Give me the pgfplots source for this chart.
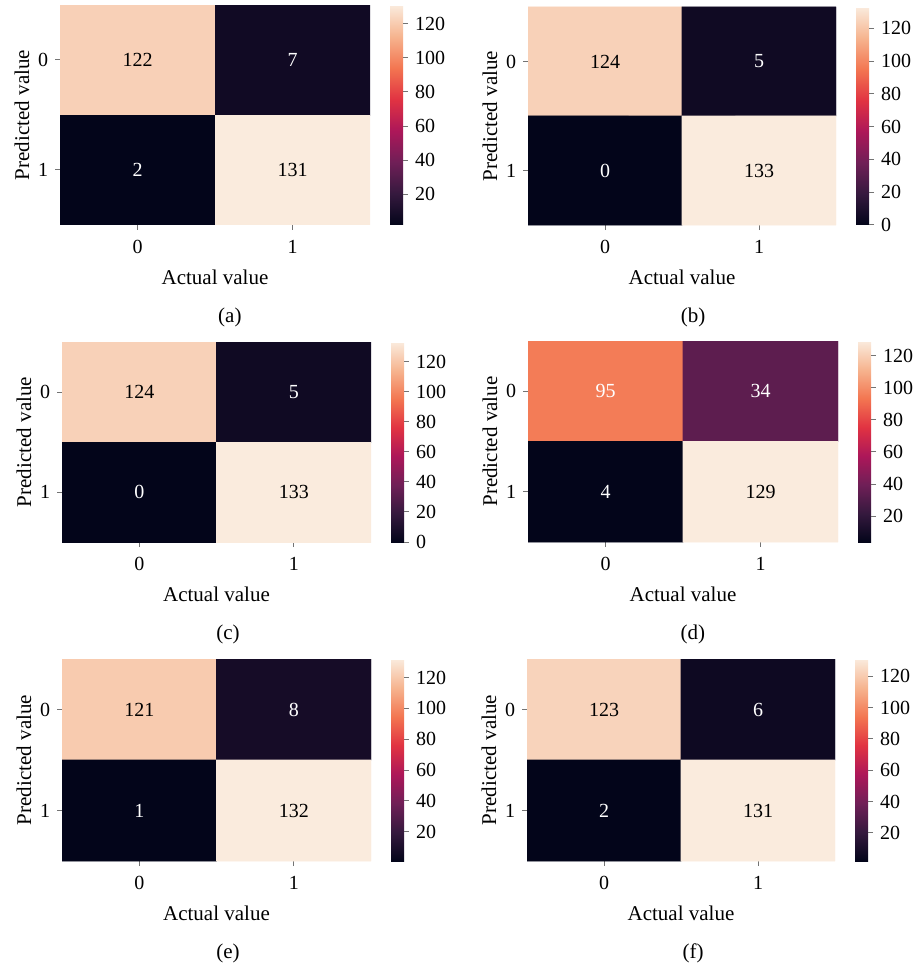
\documentclass[border=0pt]{standalone}
\usepackage{fontspec}
\setmainfont{Liberation Serif}
\usepackage{pgfplots}
\usepackage{pgfplotstable}
\pgfplotsset{compat=1.18}

% x = actual value (column), r = predicted value (row, 0 on top)
% w = 1: count written in white, w = 0: in black
\pgfplotstableread{
x r v w
0 0 122 0
1 0 7 1
0 1 2 1
1 1 131 0
}\tabA
\pgfplotstableread{
x r v w
0 0 124 0
1 0 5 1
0 1 0 1
1 1 133 0
}\tabB
\pgfplotstableread{
x r v w
0 0 124 0
1 0 5 1
0 1 0 1
1 1 133 0
}\tabC
\pgfplotstableread{
x r v w
0 0 95 1
1 0 34 1
0 1 4 1
1 1 129 0
}\tabD
\pgfplotstableread{
x r v w
0 0 121 0
1 0 8 1
0 1 1 1
1 1 132 0
}\tabE
\pgfplotstableread{
x r v w
0 0 123 0
1 0 6 1
0 1 2 1
1 1 131 0
}\tabF

\newcommand{\numfont}{\fontsize{10}{12}\selectfont}
\newcommand{\labfont}{\fontsize{10.5}{12.5}\selectfont}

\pgfplotsset{
  colormap={rocket}{rgb255=(3,5,26) rgb255=(53,25,62) rgb255=(112,31,87) rgb255=(173,23,89) rgb255=(225,51,66) rgb255=(243,118,81) rgb255=(246,180,143) rgb255=(250,235,221)},
  cm/.style={
    scale only axis, anchor=north west,
    enlargelimits=false, xmin=-0.5, xmax=1.5, ymin=-0.5, ymax=1.5,
    xtick={0,1}, ytick={0,1}, yticklabels={1,0},
    axis line style={draw=none},
    tick align=outside, major tick length=2.5pt,
    tick style={black!55, line width=0.5pt},
    xtick pos=bottom, ytick pos=left,
    xticklabel style={font=\numfont, anchor=center, yshift=-8.5pt},
    yticklabel style={font=\numfont, anchor=center, xshift=-6pt},
    xlabel={Actual value}, ylabel={Predicted value},
    xlabel style={font=\labfont, at={([yshift=-26pt]axis description cs:0.5,0)}, anchor=center},
    ylabel style={font=\labfont, at={([xshift=-19pt]axis description cs:0,0.5)}, anchor=center},
    /pgf/number format/assume math mode=true,
    colormap name=rocket,
    colorbar,
    colorbar shift/.style={xshift=10pt},
    colorbar style={
      width=6.5pt,
      axis line style={draw=none},
      ytick={0,20,...,120},
      ytick pos=right, yticklabel pos=right,
      tick align=outside, major tick length=2.5pt,
      tick style={black!55, line width=0.5pt},
      yticklabel style={font=\numfont, /pgf/number format/assume math mode=true},
    },
  },
  caption/.style 2 args={
    extra description/.code={\node[font=\labfont] at ([yshift=-46pt]axis description cs:#1,0) {#2};}
  },
  cells/.style={matrix plot*, mesh/cols=2, point meta=explicit, draw=none},
  lab/.style={only marks, mark=none,
    point meta=explicit, nodes near coords,
    nodes near coords style={anchor=center, font=\numfont, text=#1}},
}

\newcommand{\panel}[1]{%
  \addplot[cells] table[x=x, y expr=1-\thisrow{r}, meta=v] {#1};
  \addplot[lab=white, restrict expr to domain={\thisrow{w}}{0.5:1.5}] table[x=x, y expr=1-\thisrow{r}, meta=v] {#1};
  \addplot[lab=black, restrict expr to domain={\thisrow{w}}{-0.5:0.5}] table[x=x, y expr=1-\thisrow{r}, meta=v] {#1};
}

\begin{document}
\begin{tikzpicture}
% (a)
\begin{axis}[cm, at={(30pt,-2.5pt)}, width=155pt, height=110pt, caption={0.548}{(a)}]
\panel{\tabA}
\end{axis}
% (b)
\begin{axis}[cm, at={(264pt,-3.5pt)}, width=154pt, height=109pt, caption={0.536}{(b)}]
\panel{\tabB}
\end{axis}
% (c)
\begin{axis}[cm, at={(31pt,-171pt)}, width=154.5pt, height=100pt, caption={0.537}{(c)}]
\panel{\tabC}
\end{axis}
% (d)
\begin{axis}[cm, at={(264pt,-170.5pt)}, width=155pt, height=100.5pt, caption={0.532}{(d)}]
\panel{\tabD}
\end{axis}
% (e)
\begin{axis}[cm, at={(31pt,-329.5pt)}, width=154.5pt, height=101pt, caption={0.537}{(e)}]
\panel{\tabE}
\end{axis}
% (f)
\begin{axis}[cm, at={(263.5pt,-329.5pt)}, width=154pt, height=101pt, caption={0.539}{(f)}]
\panel{\tabF}
\end{axis}
\pgfresetboundingbox
\path[use as bounding box] (0pt,0pt) rectangle (457pt,-484pt);
\end{tikzpicture}
\end{document}
